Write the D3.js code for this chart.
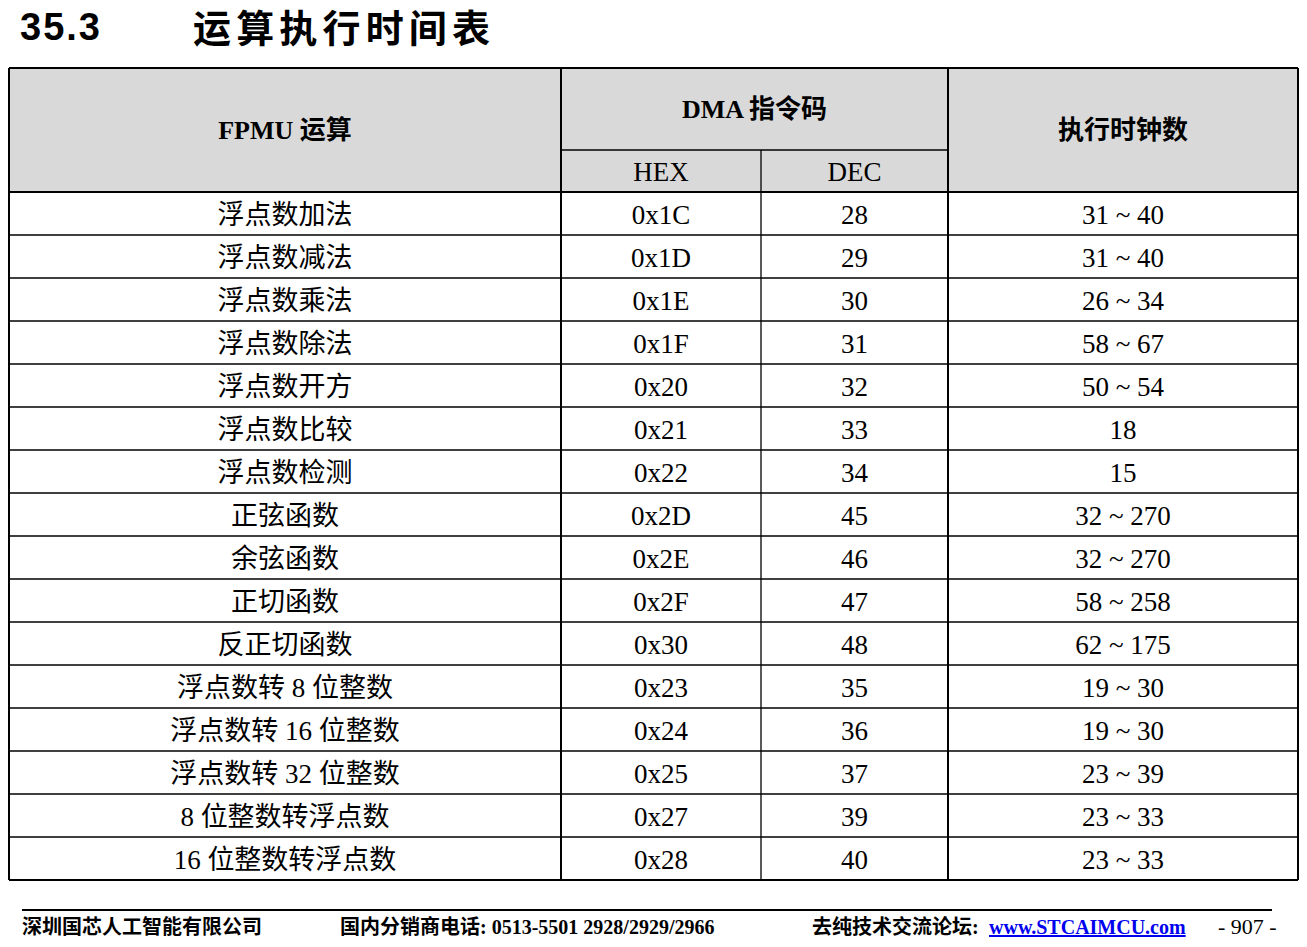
<!DOCTYPE html><html><head><meta charset="utf-8"><script src="https://cdn.jsdelivr.net/npm/d3@7"></script>
<style>body{margin:0;background:#fff}</style></head><body><svg id="s" width="1307" height="947"></svg>
<script>
const ops=["浮点数加法","浮点数减法","浮点数乘法","浮点数除法","浮点数开方","浮点数比较","浮点数检测","正弦函数","余弦函数","正切函数","反正切函数","浮点数转 8 位整数","浮点数转 16 位整数","浮点数转 32 位整数","8 位整数转浮点数","16 位整数转浮点数"];
const hex=["0x1C","0x1D","0x1E","0x1F","0x20","0x21","0x22","0x2D","0x2E","0x2F","0x30","0x23","0x24","0x25","0x27","0x28"];
const dec=["28","29","30","31","32","33","34","45","46","47","48","35","36","37","39","40"];
const clocks=["31 ~ 40","31 ~ 40","26 ~ 34","58 ~ 67","50 ~ 54","18","15","32 ~ 270","32 ~ 270","58 ~ 258","62 ~ 175","19 ~ 30","19 ~ 30","23 ~ 39","23 ~ 33","23 ~ 33"];
const svg=d3.select("#s");
const serif="'Liberation Serif','Noto Sans CJK SC',serif";
const xs=[9,561,761,948,1298];
const y=d3.scaleBand().domain(d3.range(ops.length)).range([192,880]);
svg.append("text").attr("x",20).attr("y",40).attr("font-family","'Liberation Sans',Arial,sans-serif").attr("font-weight","bold").attr("font-size",38).attr("textLength",80).text("35.3");
svg.append("text").attr("x",193).attr("y",42).attr("font-family","'Noto Sans CJK SC'").attr("font-weight","bold").attr("font-size",38).attr("textLength",297).text("运算执行时间表");
svg.append("rect").attr("x",9).attr("y",68).attr("width",1289).attr("height",124).attr("fill","#d9d9d9");
const T=(x,yy,t,o={})=>svg.append("text").attr("x",x).attr("y",yy).attr("text-anchor","middle").attr("dominant-baseline","central").attr("font-family",serif).attr("font-size",o.fs||27).attr("font-weight",o.b?"bold":"normal").text(t);
T((xs[0]+xs[1])/2,130,"FPMU 运算",{b:1,fs:26});
T((xs[1]+xs[3])/2,109,"DMA 指令码",{b:1,fs:26});
T((xs[1]+xs[2])/2,172,"HEX");
T((xs[2]+xs[3])/2,172,"DEC");
T((xs[3]+xs[4])/2,130,"执行时钟数",{b:1,fs:26});
const cols=[ops,hex,dec,clocks];
ops.forEach((_,i)=>{const cy=y(i)+y.bandwidth()/2+1;cols.forEach((c,j)=>T((xs[j]+xs[j+1])/2,cy,c[i]));});
const L=(x1,y1,x2,y2,w)=>svg.append("line").attr("x1",x1).attr("y1",y1).attr("x2",x2).attr("y2",y2).attr("stroke","#000").attr("stroke-width",w);
ops.forEach((_,i)=>{if(i>0)L(9,y(i),1298,y(i),1.3);});
L(561,150,948,150,1.3);
L(761,150,761,880,1.3);
L(9,192,1298,192,2);
[9,561,948,1298].forEach(x=>L(x,68,x,880,2));
L(9,68,1298,68,2);L(9,880,1298,880,2);
L(22,910,1272,910,2);
const F=(x,t,o={})=>svg.append("text").attr("x",x).attr("y",934).attr("font-family",serif).attr("font-weight","bold").attr("font-size",o.fs||20).attr("fill",o.c||"#000").attr("text-decoration",o.u?"underline":null).text(t);
F(22,"深圳国芯人工智能有限公司");
F(340,"国内分销商电话: 0513-5501 2928/2929/2966");
F(812,"去纯技术交流论坛:");
F(989,"www.STCAIMCU.com",{c:"#0000ee",u:1});
svg.append("text").attr("x",1218).attr("y",934).attr("font-family",serif).attr("font-size",22).text("- 907 -");
</script></body></html>
